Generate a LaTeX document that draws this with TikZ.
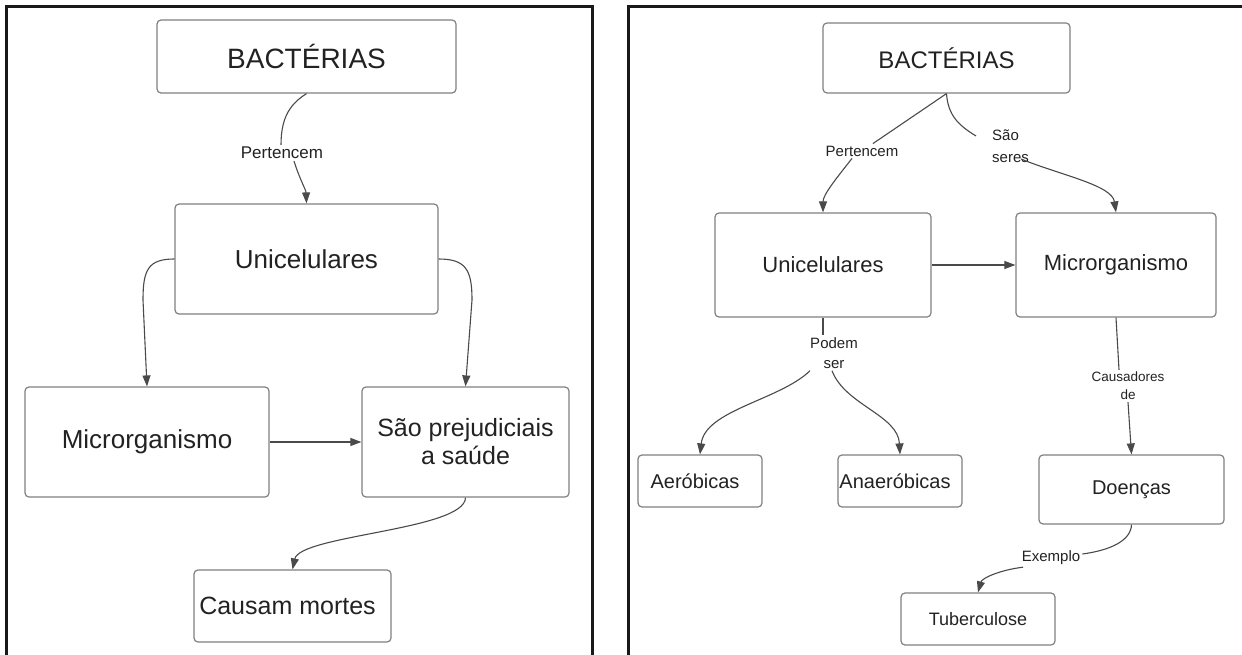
\documentclass[tikz,border=0pt]{standalone}
\usepackage{fontspec}
\setmainfont{Liberation Sans}
\usetikzlibrary{arrows.meta}
\definecolor{ink}{HTML}{222222}
\definecolor{edge}{HTML}{808080}
\definecolor{wire}{HTML}{4A4A4A}
\tikzset{
  box/.style={draw=edge, line width=1.2pt, rounded corners=4pt, text=ink,
              align=center, inner sep=0pt},
  lbl/.style={text=ink, align=center, inner sep=2pt},
  conn/.style={draw=wire, line width=1.1pt, -{Triangle[length=11pt,width=8pt]}},
  plain/.style={draw=wire, line width=1.1pt},
  frame/.style={draw=black!90, line width=3pt},
}
\begin{document}
\begin{tikzpicture}[x=1pt,y=-1pt]
\useasboundingbox (0,0) rectangle (1242,655);

% panel frames (open at the bottom)
\draw[frame] (6,660) -- (6,7) -- (592,7) -- (592,660);
\draw[frame] (628,660) -- (628,7) -- (1250,7);

% ---------- left map ----------
\node[box, minimum width=299pt, minimum height=73pt, font=\fontsize{28}{32}\selectfont] (lb) at (306.5,56.5) {BACTÉRIAS};
\node[lbl, font=\fontsize{17}{20}\selectfont] (lpert) at (282,153) {Pertencem};
\node[box, minimum width=263pt, minimum height=110pt, font=\fontsize{26}{30}\selectfont] (lu) at (306.5,259) {Unicelulares};
\node[box, minimum width=244pt, minimum height=110pt, font=\fontsize{26}{30}\selectfont] (lm) at (147,442) {Microrganismo};
\node[box, minimum width=207pt, minimum height=110pt, font=\fontsize{25}{28}\selectfont] (ls) at (465.5,442) {São prejudiciais\\a saúde};
\node[box, minimum width=197pt, minimum height=72pt, font=\fontsize{25}{28}\selectfont] (lc) at (292.5,606) {Causam mortes\hspace*{10pt}};

\draw[plain] (lb.south) .. controls (292,103) and (281,115) .. ([xshift=-1pt]lpert.north);
\draw[conn] ([xshift=12pt]lpert.south) .. controls (300,180) and (306,190) .. (lu.north);
\draw[conn] (lu.west) .. controls (148,259) and (143,270) .. (143,300) -- (lm.north);
\draw[conn] (lu.east) .. controls (466,259) and (472,270) .. (472,300) -- (ls.north);
\draw[conn] (lm.east) -- (ls.west);
\draw[conn] (ls.south) .. controls (465,530) and (300,535) .. (lc.north);

% ---------- right map ----------
\node[box, minimum width=247pt, minimum height=70pt, font=\fontsize{24}{28}\selectfont] (rb) at (946.5,58) {BACTÉRIAS};
\node[lbl, font=\fontsize{15}{18}\selectfont] (rpert) at (862,151) {Pertencem};
\node[lbl, anchor=west, align=left, font=\fontsize{15}{22}\selectfont] (rsao) at (990,146) {São\\seres};
\node[box, minimum width=216pt, minimum height=104pt, font=\fontsize{22}{26}\selectfont] (ru) at (823,265) {Unicelulares};
\node[box, minimum width=200pt, minimum height=104pt, font=\fontsize{22}{26}\selectfont] (rm) at (1116,265) {Microrganismo};
\node[lbl, font=\fontsize{15}{20}\selectfont] (rpod) at (834,353) {Podem\\ser};
\node[box, minimum width=124pt, minimum height=52pt, font=\fontsize{20}{24}\selectfont] (ra) at (700,481) {Aeróbicas\hspace*{10pt}};
\node[box, minimum width=124pt, minimum height=52pt, font=\fontsize{20}{24}\selectfont] (rn) at (900,481) {Anaeróbicas\hspace*{10pt}};
\node[lbl, font=\fontsize{13.5}{18}\selectfont] (rcau) at (1128,386) {Causadores\\de};
\node[box, minimum width=185pt, minimum height=69pt, font=\fontsize{20}{24}\selectfont] (rd) at (1131.5,489.5) {Doenças};
\node[lbl, font=\fontsize{15}{18}\selectfont] (rex) at (1051,558) {Exemplo};
\node[box, minimum width=154pt, minimum height=52pt, font=\fontsize{18}{22}\selectfont] (rt) at (978,619) {Tuberculose};

\draw[plain] (rb.south) -- (rpert);
\draw[conn] ([xshift=-10pt]rpert.south) .. controls (835,180) and (823,195) .. (ru.north);
\draw[plain] (rb.south) .. controls (948,115) and (958,125) .. ([shift={(-14,-10)}]rsao.west);
\draw[conn] ([shift={(-10,13)}]rsao.east) .. controls (1060,175) and (1112,185) .. (rm.north);
\draw[conn] (ru.east) -- (rm.west);
\draw[plain] (ru.south) -- (ru.south |- rpod.north);
\draw[conn] ([xshift=-24pt]rpod.south) .. controls (780,400) and (705,410) .. (ra.north);
\draw[conn] ([xshift=-2pt]rpod.south) .. controls (845,405) and (898,415) .. (rn.north);
\draw[plain] (rm.south) -- ([xshift=-9pt]rcau.north);
\draw[conn] (rcau.south) -- (rd.north);
\draw[plain] (rd.south) .. controls (1131,540) and (1112,550) .. ([yshift=4pt]rex.east);
\draw[conn] ([xshift=-28pt]rex.south) .. controls (1000,570) and (982,578) .. (rt.north);
\end{tikzpicture}
\end{document}
